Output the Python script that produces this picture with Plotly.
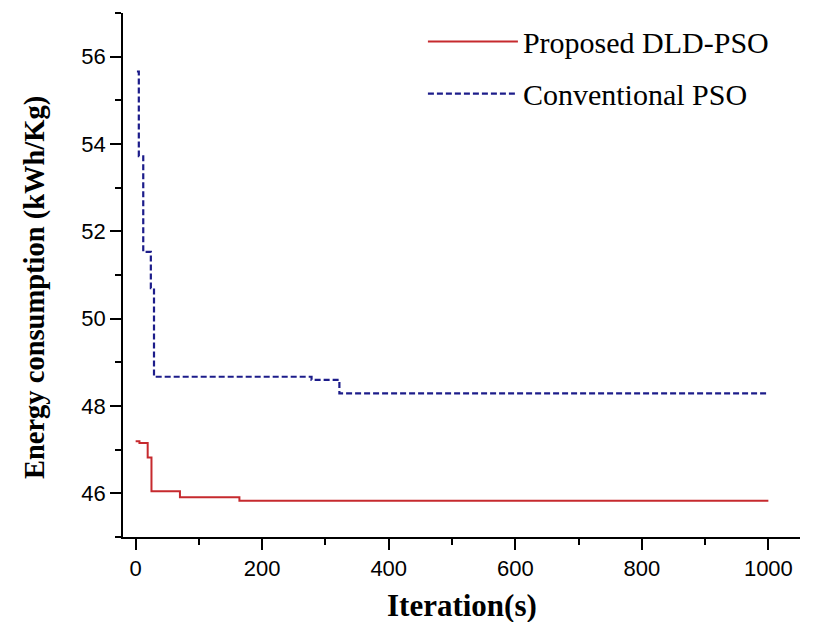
import plotly.graph_objects as go

# Data
iter_dld = [0, 6, 19, 25, 70, 164, 1000]
energy_dld = [47.19, 47.15, 46.82, 46.05, 45.91, 45.83, 45.83]

iter_pso = [2, 5, 12, 24, 29, 278, 322, 1000]
energy_pso = [55.66, 53.72, 51.53, 50.70, 48.67, 48.60, 48.29, 48.29]

x_ticks = [0, 200, 400, 600, 800, 1000]
y_ticks = [46, 48, 50, 52, 54, 56]

fig = go.Figure()
fig.add_trace(go.Scatter(
    x=iter_dld, y=energy_dld, mode="lines", line_shape="hv",
    name="Proposed DLD-PSO", legendgroup="a",
    line=dict(color="#c62a2e", width=2),
))
fig.add_trace(go.Scatter(
    x=iter_pso, y=energy_pso, mode="lines", line_shape="hv",
    name="Conventional PSO", legendgroup="b",
    line=dict(color="#1c1c8a", width=2.2, dash="6px,3px"),
))

axis_common = dict(
    showgrid=False, zeroline=False, showline=True, linecolor="black",
    linewidth=1.5, ticks="outside", ticklen=11, tickwidth=1.5, tickcolor="black",
    tickfont=dict(family="Liberation Sans, Arial", size=22, color="black"),
    mirror=False,
)

fig.update_xaxes(
    range=[-20, 1050], tickvals=x_ticks,
    minor=dict(ticks="outside", ticklen=6, tickwidth=1.5, tickcolor="black", dtick=100, tick0=0),
    **axis_common,
)
fig.update_yaxes(
    range=[45, 57], tickvals=y_ticks,
    minor=dict(ticks="outside", ticklen=6, tickwidth=1.5, tickcolor="black", dtick=1, tick0=45),
    **axis_common,
)

fig.add_annotation(
    text="<b>Energy consumption (kWh/Kg)</b>", textangle=-90,
    xref="paper", yref="paper", x=-0.13, y=0.477,
    xanchor="center", yanchor="middle", showarrow=False,
    font=dict(family="Liberation Serif, Times New Roman", size=28.5, color="black"),
)
fig.add_annotation(
    text="<b>Iteration(s)</b>",
    xref="paper", yref="paper", x=0.5, y=-0.13,
    xanchor="center", yanchor="middle", showarrow=False,
    font=dict(family="Liberation Serif, Times New Roman", size=31, color="black"),
)

fig.update_layout(
    width=822, height=622,
    margin=dict(l=123, r=22, t=13, b=85),
    paper_bgcolor="white", plot_bgcolor="white",
    showlegend=True,
    legend=dict(
        x=0.443, y=0.995, xanchor="left", yanchor="top",
        font=dict(family="Liberation Serif, Times New Roman", size=30, color="black"),
        bgcolor="rgba(0,0,0,0)", itemwidth=90, tracegroupgap=10,
    ),
)

fig.write_html("out.html")
